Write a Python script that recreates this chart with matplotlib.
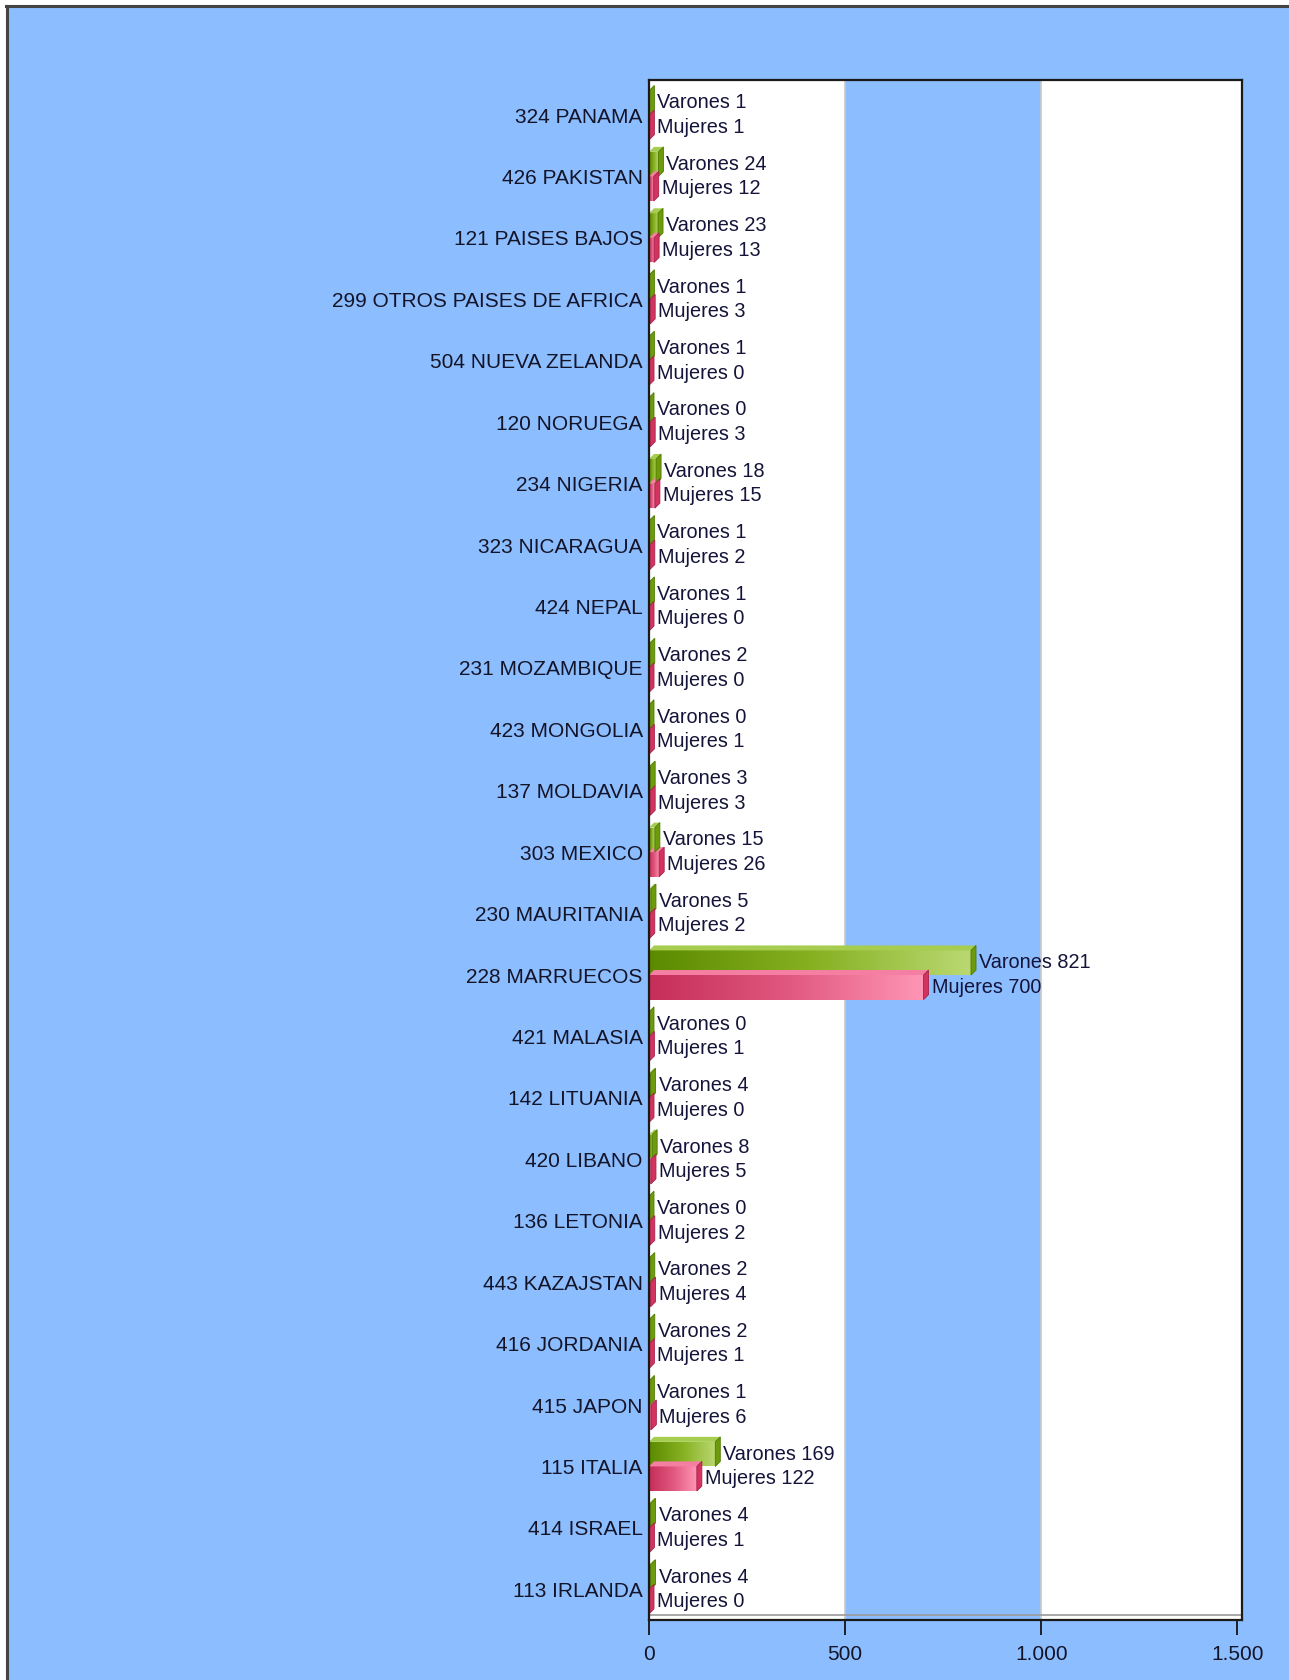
import matplotlib
matplotlib.use("Agg")
import matplotlib.pyplot as plt
import numpy as np
from matplotlib.colors import LinearSegmentedColormap
from matplotlib.patches import Polygon, Rectangle
from matplotlib.lines import Line2D

codes = [324, 426, 121, 299, 504, 120, 234, 323, 424, 231, 423, 137, 303, 230,
         228, 421, 142, 420, 136, 443, 416, 415, 115, 414, 113]
countries = ["PANAMA", "PAKISTAN", "PAISES BAJOS", "OTROS PAISES DE AFRICA",
             "NUEVA ZELANDA", "NORUEGA", "NIGERIA", "NICARAGUA", "NEPAL",
             "MOZAMBIQUE", "MONGOLIA", "MOLDAVIA", "MEXICO", "MAURITANIA",
             "MARRUECOS", "MALASIA", "LITUANIA", "LIBANO", "LETONIA",
             "KAZAJSTAN", "JORDANIA", "JAPON", "ITALIA", "ISRAEL", "IRLANDA"]
varones = [1, 24, 23, 1, 1, 0, 18, 1, 1, 2, 0, 3, 15, 5, 821, 0, 4, 8, 0, 2, 2, 1, 169, 4, 4]
mujeres = [1, 12, 13, 3, 0, 3, 15, 2, 0, 0, 1, 3, 26, 2, 700, 1, 0, 5, 2, 4, 1, 6, 122, 1, 0]
xticks = [0, 500, 1000, 1500]
xtick_labels = ["0", "500", "1.000", "1.500"]
series_names = ["Varones", "Mujeres"]

FONT = "Liberation Sans"
fs_y, fs_v, fs_x = 15, 14.3, 15

BG = "#8BBDFF"
W, H = 1289, 1680
fig = plt.figure(figsize=(W / 100, H / 100), dpi=100)
fig.patch.set_facecolor(BG)
fig.add_artist(Rectangle((0, 0), 6 / W, 1, transform=fig.transFigure,
                         facecolor="white", edgecolor="none", zorder=0))
fig.add_artist(Rectangle((0, (H - 5) / H), 1, 5 / H, transform=fig.transFigure,
                         facecolor="white", edgecolor="none", zorder=0))
fig.add_artist(Line2D([7 / W, 7 / W], [0, (H - 6) / H], transform=fig.transFigure,
                      color="#444444", lw=2.2))
fig.add_artist(Line2D([6 / W, 1], [(H - 6) / H, (H - 6) / H], transform=fig.transFigure,
                      color="#444444", lw=2.2))

ax_l, ax_r, ax_t, ax_b = 649, 1242, 80, 1620
ax = fig.add_axes([ax_l / W, (H - ax_b) / H, (ax_r - ax_l) / W, (ax_b - ax_t) / H])
ax.set_zorder(2)
ax.set_facecolor("white")

n = len(countries)
ypos = np.arange(n)[::-1].astype(float)
bh = 0.40
XMAX = 1512
YLIM = (-0.5, n - 0.5 + 0.07)
ax.set_xlim(0, XMAX)
ax.set_ylim(*YLIM)

ax.axvspan(500, 1000, color=BG, zorder=0.5, lw=0)
for xv in (500, 1000):
    ax.axvline(xv, color="#c8c8c8", lw=1.2, zorder=0.6)

px_x = XMAX / (ax_r - ax_l)
px_y = (YLIM[1] - YLIM[0]) / (ax_b - ax_t)
depth = 5
dx, dy = depth * px_x, depth * px_y

green_cmap = LinearSegmentedColormap.from_list("g", ["#5B8A00", "#86B020", "#BAD872"])
pink_cmap = LinearSegmentedColormap.from_list("p", ["#C52E58", "#E0577E", "#FF96B6"])
styles = [
    dict(cmap=green_cmap, top="#A6CC50", side="#6E9A0E", edge="#4E7A00", off=bh / 2),
    dict(cmap=pink_cmap, top="#F57FA2", side="#D2335F", edge="#A8204A", off=-bh / 2),
]
grad = np.linspace(0, 1, 256).reshape(1, -1)

for vals, st, name in zip([varones, mujeres], styles, series_names):
    bars = ax.barh(ypos + st["off"], vals, height=bh, color=st["cmap"](0.5),
                   edgecolor="none", zorder=2)
    for b, v in zip(bars, vals):
        x0, y0 = b.get_x(), b.get_y()
        w, h = b.get_width(), b.get_height()
        if w > 0:
            im = ax.imshow(grad, extent=[x0, x0 + w, y0, y0 + h], cmap=st["cmap"],
                           aspect="auto", zorder=3, interpolation="bilinear")
            im.set_clip_path(b)
        ax.add_patch(Polygon([(x0, y0 + h), (x0 + dx, y0 + h + dy), (x0 + w + dx, y0 + h + dy),
                              (x0 + w, y0 + h)], closed=True, facecolor=st["top"],
                             edgecolor="none", zorder=3.5))
        ax.add_patch(Polygon([(x0 + w, y0), (x0 + w + dx, y0 + dy), (x0 + w + dx, y0 + h + dy),
                              (x0 + w, y0 + h)], closed=True, facecolor=st["side"],
                             edgecolor=st["edge"], lw=0.6, zorder=3.6))
        ax.annotate(f"{name} {v}", xy=(x0 + w, y0 + h / 2), xytext=(8, 0),
                    textcoords="offset pixels", ha="left", va="center",
                    fontsize=fs_v, color="#14143a", family=FONT, zorder=5)

ax.set_xlim(0, XMAX)
ax.set_ylim(*YLIM)

ax.set_yticks(ypos)
ax.set_yticklabels([f"{c} {name}" for c, name in zip(codes, countries)],
                   fontsize=fs_y, color="#141428", family=FONT)
ax.tick_params(axis="y", length=0, pad=4.5)
ax.set_xticks(xticks)
ax.set_xticklabels(xtick_labels, fontsize=fs_x, color="#141428", family=FONT)
ax.tick_params(axis="x", direction="out", length=11, width=1.3, color="#141414", pad=7)

for s in ax.spines.values():
    s.set_color("#1a1a1a")
    s.set_linewidth(1.6)
    s.set_zorder(6)

ax.axhline(-0.5 + dy, color="#9a9a9a", lw=1.2, zorder=5.5)

fig.savefig("out.png", dpi=100, facecolor=fig.get_facecolor())
